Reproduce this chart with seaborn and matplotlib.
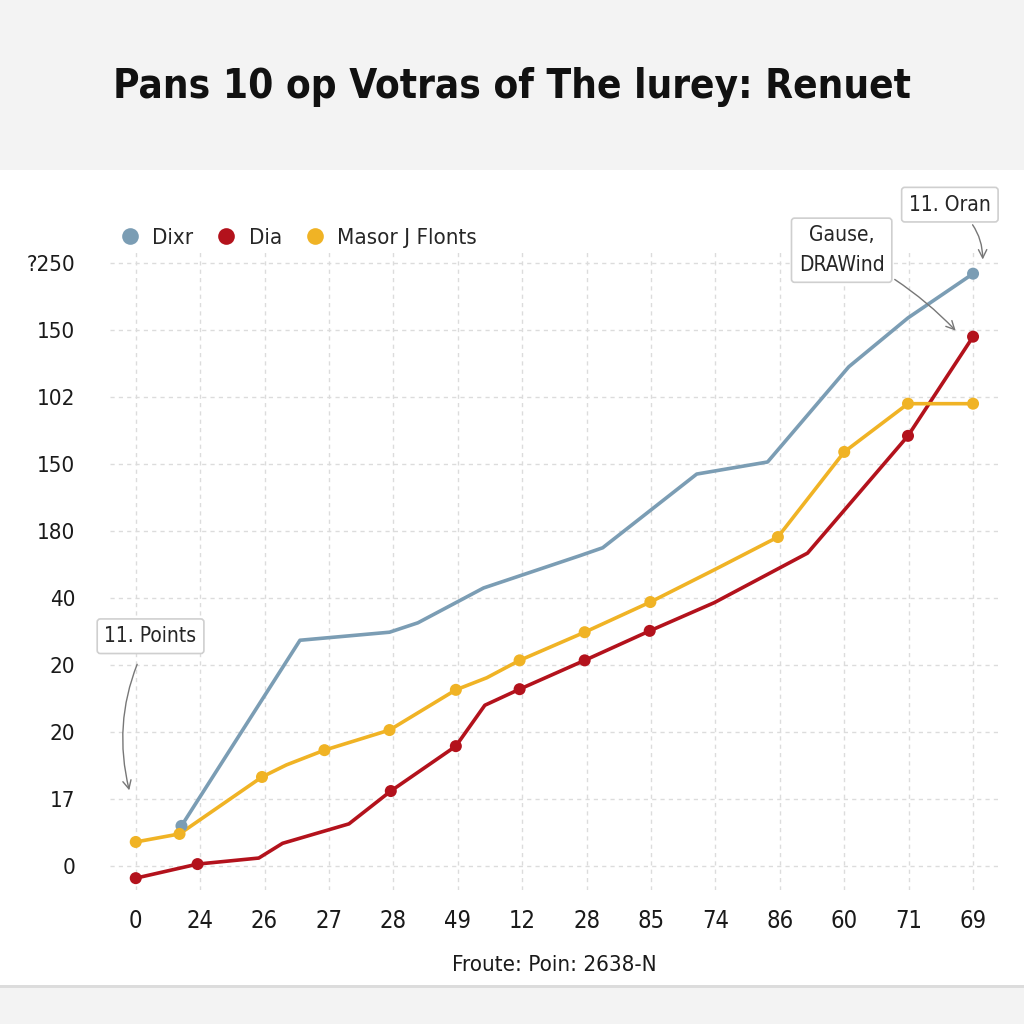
import matplotlib
matplotlib.use("Agg")
import matplotlib.pyplot as plt
import matplotlib.patches as mpatches
import seaborn as sns
import pandas as pd

sns.set_theme(style="white")
plt.rcParams['font.family'] = ['DejaVu Sans']
plt.rcParams['font.stretch'] = 'condensed'

# data, in tick positions along x and grid rows along y
x_labels = ["0", "24", "26", "27", "28", "49", "12", "28", "85", "74", "86", "60", "71", "69"]
y_labels = ["0", "17", "20", "20", "40", "180", "150", "102", "150", "?250"]

dixr_x = [0.71, 2.55, 3.94, 4.38, 5.40, 6.89, 7.25, 8.71, 9.81, 11.07, 11.99, 13.0]
dixr_y = [0.60, 3.37, 3.49, 3.63, 4.15, 4.63, 4.75, 5.85, 6.03, 7.45, 8.18, 8.84]
dixr_marks = [0, 11]

dia_x = [0, 0.96, 1.91, 2.28, 3.31, 3.96, 4.97, 5.42, 5.96, 6.97, 7.98, 8.98, 10.43, 11.99, 13.0]
dia_y = [-0.18, 0.03, 0.12, 0.34, 0.63, 1.12, 1.79, 2.40, 2.64, 3.07, 3.51, 3.93, 4.67, 6.42, 7.90]
dia_marks = [0, 1, 5, 6, 8, 9, 10, 13, 14]

masor_x = [0, 0.68, 1.96, 2.34, 2.93, 3.94, 4.97, 5.45, 5.96, 6.97, 7.99, 8.98, 9.97, 11.0, 11.99, 13.0]
masor_y = [0.36, 0.48, 1.33, 1.51, 1.73, 2.03, 2.63, 2.81, 3.07, 3.49, 3.94, 4.42, 4.91, 6.18, 6.90, 6.90]
masor_marks = [0, 1, 2, 4, 5, 6, 8, 9, 10, 12, 13, 14, 15]

series = ["Dixr", "Dia", "Masor J Flonts"]
colors = {"Dixr": "#7b9db4", "Dia": "#b3121c", "Masor J Flonts": "#f0b325"}

rows = []
marks = []
for name, xs, ys, mk in [("Dixr", dixr_x, dixr_y, dixr_marks),
                         ("Dia", dia_x, dia_y, dia_marks),
                         ("Masor J Flonts", masor_x, masor_y, masor_marks)]:
    for i, (a, b) in enumerate(zip(xs, ys)):
        rows.append({"x": a, "y": b, "series": name})
        if i in mk:
            marks.append({"x": a, "y": b, "series": name})
df = pd.DataFrame(rows)
dm = pd.DataFrame(marks)

fig = plt.figure(figsize=(10.24, 10.24), dpi=100)
fig.patch.set_facecolor("#f3f3f3")
# white panel behind the chart
fig.patches.append(mpatches.Rectangle((0, 1 - 985 / 1024), 1, (985 - 170) / 1024,
                                      transform=fig.transFigure, facecolor="white",
                                      edgecolor="none", zorder=-2))
fig.patches.append(mpatches.Rectangle((0, 1 - 988 / 1024), 1, 3 / 1024,
                                      transform=fig.transFigure, facecolor="#dcdcdc",
                                      edgecolor="none", zorder=-2))

ax = fig.add_axes([0.1074, 0.1313, 0.868, 0.625])
ax.set_facecolor("none")

sns.lineplot(data=df, x="x", y="y", hue="series", hue_order=series, palette=colors,
             sort=False, estimator=None, units="series", linewidth=2.6, legend=False, ax=ax)
sns.scatterplot(data=dm, x="x", y="y", hue="series", hue_order=series, palette=colors,
                s=75, edgecolor="none", legend=False, ax=ax, zorder=5)

ax.set_xlim(-0.4, 13.4)
ax.set_ylim(-0.35, 9.2)
ax.set_xticks(range(len(x_labels)))
ax.set_xticklabels(x_labels)
ax.set_yticks(range(len(y_labels)))
ax.set_yticklabels(y_labels)
ax.tick_params(axis="x", labelsize=17, pad=14, length=0, colors="#1a1a1a")
ax.tick_params(axis="y", labelsize=16, pad=25, length=0, colors="#1a1a1a")
ax.grid(True, linestyle=(0, (3, 3)), color="#dcdcdc", linewidth=1)
for s in ax.spines.values():
    s.set_visible(False)
ax.set_xlabel("Froute: Poin: 2638-N", fontsize=16, labelpad=16, color="#1a1a1a")
ax.set_ylabel("")

handles = [plt.Line2D([], [], marker="o", linestyle="none", markersize=12,
                      markerfacecolor=colors[n], markeredgecolor="none") for n in series]
fig.legend(handles, series, loc="center left", bbox_to_anchor=(0.118, 1 - 238 / 1024),
           ncol=3, frameon=False, fontsize=16, handlelength=0.8, handletextpad=0.6,
           columnspacing=1.1, borderaxespad=0, borderpad=0)

fig.text(0.5, 1 - 87 / 1024, "Pans 10 op Votras of The lurey: Renuet",
         ha="center", va="center", fontsize=29, fontweight="bold", color="#111111")

box = dict(boxstyle="round,pad=0.35,rounding_size=0.15", facecolor="white",
           edgecolor="#cfcfcf", linewidth=1.2)
arrow = dict(arrowstyle="->", color="#777777", linewidth=1)
ax.annotate("11. Points", xy=(-0.09, 1.09), xytext=(0.23, 3.43), fontsize=15,
            ha="center", va="center", bbox=box, annotation_clip=False,
            arrowprops=dict(arrow, connectionstyle="arc3,rad=0.2", shrinkA=8))
ax.annotate("Gause,\nDRAWind", xy=(12.76, 7.96), xytext=(10.96, 9.19), fontsize=15,
            ha="center", va="center", bbox=box, annotation_clip=False, linespacing=1.6,
            arrowprops=dict(arrow, connectionstyle="arc3,rad=-0.1", shrinkA=2))
ax.annotate("11. Oran", xy=(13.15, 9.01), xytext=(12.64, 9.87), fontsize=15,
            ha="center", va="center", bbox=box, annotation_clip=False,
            arrowprops=dict(arrow, connectionstyle="arc3,rad=-0.3", shrinkA=2))

fig.savefig("out.png", dpi=100, facecolor=fig.get_facecolor())
